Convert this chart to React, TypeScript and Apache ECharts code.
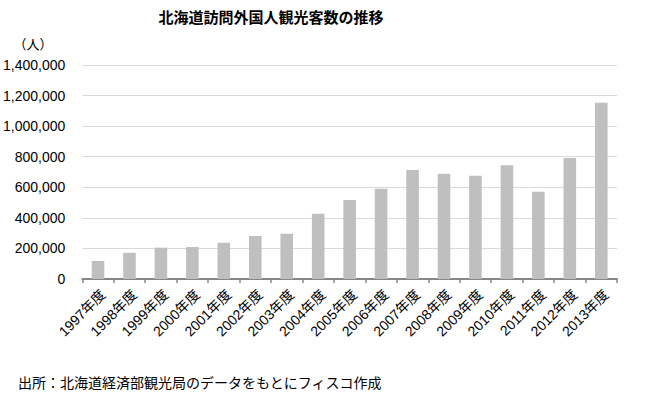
import React, { useEffect, useRef } from "react";
import * as echarts from "echarts";

const categories = ["1997年度","1998年度","1999年度","2000年度","2001年度","2002年度","2003年度","2004年度","2005年度","2006年度","2007年度","2008年度","2009年度","2010年度","2011年度","2012年度","2013年度"];
const visitors = [118000,172000,205000,209000,237000,281000,296000,427000,517000,591000,713000,689000,676000,744000,571000,791000,1153000];
const yTicks = { min: 0, max: 1400000, interval: 200000 };
const titleText = "北海道訪問外国人観光客数の推移";
const unitText = "（人）";
const sourceText = "出所：北海道経済部観光局のデータをもとにフィスコ作成";

const FONT = "'Liberation Sans', 'Noto Sans CJK JP', sans-serif";

export default function App() {
  const ref = useRef<HTMLDivElement>(null);
  useEffect(() => {
    if (!ref.current) return;
    const chart = echarts.init(ref.current, null, { renderer: "svg" });
    chart.setOption({
      animation: false,
      backgroundColor: "#ffffff",
      grid: { left: 81, right: 31, top: 65, bottom: 120, containLabel: false },
      graphic: [
        { type: "text", x: 271, y: 16, style: { text: titleText, fontSize: 15, fontWeight: "bold", fontFamily: "'Noto Sans CJK JP', sans-serif", fill: "#000", textAlign: "center", textVerticalAlign: "middle" } },
        { type: "text", x: 33, y: 43, style: { text: unitText, fontSize: 13, fontFamily: "'Noto Sans CJK JP', sans-serif", fill: "#000", textAlign: "center", textVerticalAlign: "middle" } },
        { type: "text", x: 18, y: 382, style: { text: sourceText, fontSize: 14, fontFamily: "'Noto Sans CJK JP', sans-serif", fill: "#000", textAlign: "left", textVerticalAlign: "middle" } },
      ],
      xAxis: {
        type: "category",
        data: categories,
        axisLine: { show: true, lineStyle: { color: "#868686", width: 2 } },
        axisTick: { show: true, alignWithLabel: false, length: 4, lineStyle: { color: "#868686", width: 1.5 } },
        axisLabel: { rotate: 45, fontSize: 14, color: "#000", fontFamily: FONT, margin: 8, interval: 0, align: "right", verticalAlign: "top" },
      },
      yAxis: {
        type: "value",
        min: yTicks.min,
        max: yTicks.max,
        interval: yTicks.interval,
        axisLine: { show: false },
        axisTick: { show: false },
        splitLine: { lineStyle: { color: "#d9d9d9", width: 1 } },
        axisLabel: {
          fontSize: 14, color: "#000", fontFamily: FONT, margin: 17,
          formatter: (v: number) => v.toString().replace(/\B(?=(\d{3})+(?!\d))/g, ","),
        },
      },
      series: [
        { type: "bar", data: visitors, barWidth: "40%", itemStyle: { color: "#bfbfbf" } },
      ],
    });
    return () => chart.dispose();
  }, []);
  return <div ref={ref} style={{ width: 648, height: 399, position: "absolute", left: 0, top: 0 }} />;
}
